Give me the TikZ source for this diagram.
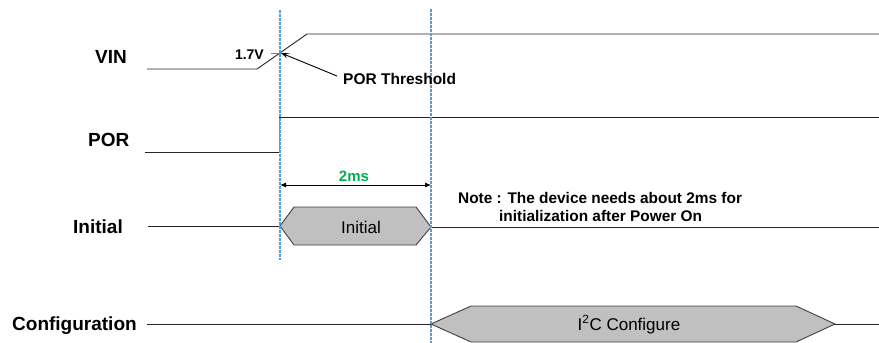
\documentclass[tikz,border=0pt]{standalone}
\usepackage{fontspec}
\setmainfont{Liberation Sans}
\usetikzlibrary{arrows.meta}
\definecolor{guidecol}{HTML}{5B9BD5}
\definecolor{busfill}{HTML}{C0C0C0}
\definecolor{busedge}{HTML}{404040}
\definecolor{msgreen}{HTML}{00B050}
\begin{document}
\begin{tikzpicture}[x=1pt,y=-1pt,
  sig/.style={draw=black!85,line width=0.9pt},
  lbl/.style={font=\fontsize{19}{22}\selectfont\bfseries,inner sep=0pt,anchor=base west},
  small/.style={font=\fontsize{14}{16}\selectfont\bfseries,inner sep=0pt},
  notetext/.style={font=\fontsize{15.4}{18}\selectfont\bfseries,inner sep=0pt,anchor=base west},
  guideline/.style={draw=guidecol,line width=1.2pt,dash pattern=on 3pt off 1pt},
  busbox/.style={fill=busfill,draw=busedge,line width=0.9pt},
  bustext/.style={font=\fontsize{17}{20}\selectfont,inner sep=0pt,anchor=base}]
\useasboundingbox (0,0) rectangle (879,343);

% signal names
\node[lbl] (vinl) at (95,63) {VIN};
\node[lbl] (porl) at (88,146) {POR};
\node[lbl] (initl) at (73,233) {Initial};
\node[lbl] (cfgl) at (12,330) {Configuration};

% coordinates
\coordinate (v0) at (147,69);
\coordinate (v1) at (257,69);
\coordinate (v2) at (307,34);
\coordinate (v3) at (879,34);
\coordinate (p0) at (145,152);
\coordinate (p1) at (279,152);
\coordinate (p2) at (279,117);
\coordinate (p3) at (879,117);
\coordinate (i0) at (148,226);
\coordinate (iL) at (280,226);
\coordinate (iR) at (431,227);
\coordinate (i3) at (879,227);
\coordinate (c0) at (147,324);
\coordinate (cL) at (431,324);
\coordinate (cR) at (835,324);
\coordinate (c3) at (879,324);
\coordinate (thr) at (281,53);

% guide lines
\coordinate (g1t) at (280,10);
\coordinate (g1b) at (280,260);
\coordinate (g2t) at (431,9);
\coordinate (g2b) at (431,343);

% VIN
\draw[sig] (v0) -- (v1) -- (v2) -- (v3);
\draw[draw=gray,line width=1pt] (271,53) -- (290,53);
\node[small,anchor=base east] (v17) at (264,59.5) {1.7V};

% POR
\draw[sig] (p0) -- (p1);
\draw[draw=gray,line width=0.9pt] (p1) -- (p2);
\draw[sig] (p2) -- (p3);

% Initial bus
\draw[sig] (i0) -- (iL);
\draw[busbox] (iL) -- (294,207) -- (416,207) -- (iR) -- (416,245) -- (294,245) -- cycle;
\node[bustext] (initb) at (361,233) {Initial};
\draw[sig] (iR) -- (i3);

% Configuration bus
\draw[sig] (c0) -- (cL);
\draw[busbox] (cL) -- (471,306) -- (796,306) -- (cR) -- (796,342) -- (471,342) -- cycle;
\node[bustext] (cfgb) at (629,330) {I\textsuperscript{2}C Configure};
\draw[sig] (cR) -- (c3);

% guides
\draw[guideline] (g1t) -- (g1b);
\draw[guideline] (g2t) -- (g2b);

% POR threshold
\node[font=\fontsize{15.5}{18}\selectfont\bfseries,inner sep=0pt,anchor=base west] (thrl) at (343,84) {POR Threshold};
\coordinate (thrs) at (337,76);
\draw[line width=0.9pt,-{Stealth[length=7pt,width=5pt]}] (thrs) -- (thr);

% 2ms
\coordinate (m0) at (280,185);
\coordinate (m1) at (431,185);
\draw[line width=0.9pt,{Latex[length=6pt,width=5pt]}-{Latex[length=6pt,width=5pt]}] (m0) -- (m1);
\node[font=\fontsize{15}{18}\selectfont\bfseries,text=msgreen,inner sep=0pt,anchor=base] (ms) at (354,181) {2ms};

% note
\node[notetext] (note1) at (458,203) {Note : The device needs about 2ms for};
\node[notetext] (note2) at (499,221) {initialization after Power On};
\end{tikzpicture}
\end{document}
